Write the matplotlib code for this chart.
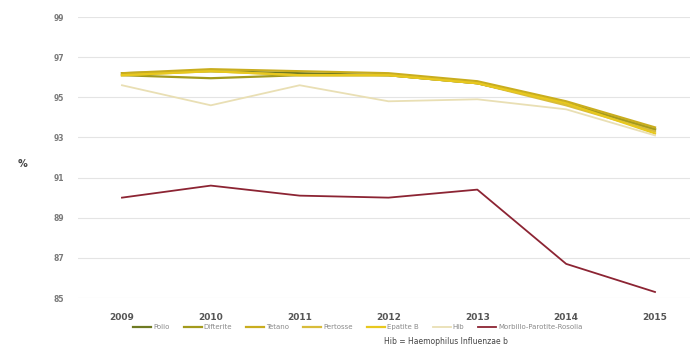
import matplotlib
matplotlib.use("Agg")
import matplotlib.pyplot as plt

years = [2009, 2010, 2011, 2012, 2013, 2014, 2015]
polio = [96.2, 96.3, 96.2, 96.1, 95.7, 94.7, 93.4]
difterite = [96.1, 95.95, 96.1, 96.1, 95.7, 94.7, 93.4]
tetano = [96.2, 96.4, 96.3, 96.2, 95.8, 94.8, 93.5]
pertosse = [96.1, 96.3, 96.1, 96.1, 95.7, 94.6, 93.3]
epatite_b = [96.1, 96.3, 96.1, 96.1, 95.7, 94.7, 93.2]
hib = [95.6, 94.6, 95.6, 94.8, 94.9, 94.4, 93.1]
mpr = [90.0, 90.6, 90.1, 90.0, 90.4, 86.7, 85.3]
yticks = [85, 87, 89, 91, 93, 95, 97, 99]

series = [
    ("Polio", polio, "#6e7a22", 1.6),
    ("Difterite", difterite, "#a39a1c", 1.6),
    ("Tetano", tetano, "#c9ad1e", 1.6),
    ("Pertosse", pertosse, "#d8bc3a", 1.6),
    ("Epatite B", epatite_b, "#e8c81e", 1.6),
    ("Hib", hib, "#e9dfb4", 1.3),
    ("Morbillo-Parotite-Rosolia", mpr, "#8c2433", 1.3),
]

fig = plt.figure(figsize=(6.92, 3.46), dpi=100)
ax = fig.add_axes([78 / 692, 48 / 346, 612 / 692, 281 / 346])

for name, vals, color, lw in series:
    ax.plot(years, vals, color=color, lw=lw, label=name, zorder=3)

ax.set_xlim(2008.505, 2015.394)
ax.set_ylim(85, 99)
ax.set_yticks(yticks)
ax.set_yticklabels([str(v) for v in yticks], fontsize=5.5, color="#7a7a7a",
                   fontweight="bold")
ax.set_xticks(years)
ax.set_xticklabels([str(y) for y in years], fontsize=6.5, color="#555555",
                   fontweight="bold")
ax.tick_params(axis="both", length=0)
ax.tick_params(axis="y", pad=10)
ax.tick_params(axis="x", pad=11)
ax.grid(axis="y", color="#e4e4e4", lw=0.8, zorder=0)
for s in ax.spines.values():
    s.set_visible(False)

fig.text(23 / 692, 1 - 164 / 346, "%", fontsize=7, color="#444444",
         fontweight="bold", ha="center", va="center")

fig.legend(loc="center", bbox_to_anchor=(358 / 692, 1 - 327 / 346), ncol=7,
           frameon=False, fontsize=5, handlelength=2.6, handletextpad=0.3,
           columnspacing=2.0, labelcolor="#8a8a8a")
fig.text(446 / 692, 1 - 341 / 346, "Hib = Haemophilus Influenzae b",
         fontsize=5.5, color="#444444", ha="center", va="center")

fig.savefig("out.png", dpi=100, facecolor="white")
